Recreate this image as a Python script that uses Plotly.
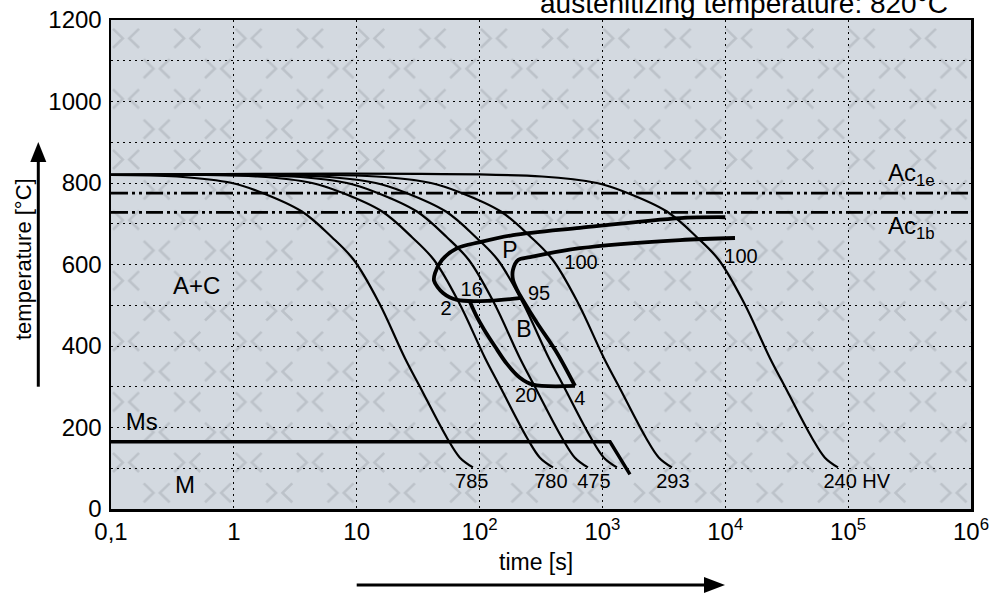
import base64
import plotly.graph_objects as go

# ---------------- data ----------------
# cooling curves: temperature levels [°C] and time [s] at those levels
T_cool = [820, 816, 800, 778, 730, 667, 611, 506, 370, 300, 175, 126, 102]
t_785 = [0.1, 0.344, 0.964, 1.63, 3.58, 6.28, 9.48, 15.2, 24.7, 32.7, 54.2, 69.2, 88.3]
t_780 = [0.1, 1.55, 4.33, 7.31, 16.1, 28.2, 42.6, 68.1, 111, 147, 243, 310, 396]
t_475 = [0.1, 2.97, 8.32, 14.1, 30.9, 54.2, 81.8, 131, 213, 282, 468, 597, 762]
t_unl = [0.1, 5.12, 14.3, 24.2, 53.2, 93.3, 141, 225, 367, 486, 805, 1028, 1312]
t_293 = [0.1, 14.4, 40.2, 67.9, 149, 262, 395, 632, 1030, 1365, 2259, 2884, 3681]
t_240 = [0.1, 322, 902, 1524, 3350, 5875, 8872, 14190, 23120, 30620, 50700, 64710, 82600]

# pearlite start line (outer thick line)
ps_t = [10000, 4276, 657, 187, 101, 65.5, 49.4, 43.4, 42.6, 50.4, 65.5, 122, 221]
ps_T = [716, 714, 690, 672, 655, 640, 611, 579, 560, 530, 513, 511, 518]
# pearlite finish / bainite line (inner thick line)
pf_t = [12000, 4276, 657, 257, 206, 187, 187, 202, 225, 293, 427, 598]
pf_T = [665, 660, 640, 618, 611, 587, 563, 538, 513, 457, 383, 302]
# bainite lower boundary
b_t = [83.6, 93.5, 109, 134, 167, 213, 272, 598]
b_T = [508, 476, 440, 398, 356, 322, 305, 302]
# martensite start
ms_t = [0.1, 1153, 1675]
ms_T = [165, 165, 85]
# Ac1 temperatures
Ac1e = 775
Ac1b = 728
t_span = [0.1, 1e6]

# labels
region_txt = ["A+C", "Ms", "M"]
region_t = [0.498, 0.178, 0.40]
region_T = [542, 209, 54]
phase_txt = ["P", "B"]
phase_t = [177, 230]
phase_T = [629, 437]
pct_txt = ["100", "100", "16", "95", "2", "20", "4"]
pct_t = [670, 13430, 86.3, 305, 53.3, 239, 656]
pct_T = [601, 617, 535, 525, 489, 274, 268]
hv_txt = ["785", "780", "475", "293", "240 HV"]
hv_t = [86.3, 381, 853, 3750, 117500]
hv_T = [64, 64, 64, 64, 64]
ac_txt = ["Ac<sub>1e</sub>", "Ac<sub>1b</sub>"]
ac_t = [211000, 211000]
ac_T = [819, 689]

x_tickvals = [0.1, 1, 10, 100, 1000, 1e4, 1e5, 1e6]
x_ticktext = ["0,1", "1", "10", "10<sup>2</sup>", "10<sup>3</sup>",
              "10<sup>4</sup>", "10<sup>5</sup>", "10<sup>6</sup>"]
y_tickvals = list(range(0, 1201, 100))
y_ticktext = [str(v) if v % 200 == 0 else "" for v in y_tickvals]

# ---------------- styling ----------------
FONT = "Liberation Sans, Arial, sans-serif"
BG = "#d3d9e0"
W, H = 992, 597
L, R, T, B = 111, 21, 20, 88
PW, PH = W - L - R, H - T - B

# background pattern of "><" marks (decoration)
tw, th = 61.3, 60.6


def chev(cx, cy):
    return (f'M{cx-13:.1f},{cy-9.5:.1f} L{cx-3.2:.1f},{cy:.1f} L{cx-13:.1f},{cy+9.5:.1f} '
            f'M{cx+13:.1f},{cy-9.5:.1f} L{cx+3.2:.1f},{cy:.1f} L{cx+13:.1f},{cy+9.5:.1f}')


svg = (f'<svg xmlns="http://www.w3.org/2000/svg" width="{PW}" height="{PH}" '
       f'viewBox="0 0 {PW} {PH}" preserveAspectRatio="none">'
       f'<defs><pattern id="p" width="{tw}" height="{th}" patternUnits="userSpaceOnUse">'
       f'<path d="{chev(15, 18.3)} {chev(45.7, 48.6)}" fill="none" stroke="#bcc2c9" '
       f'stroke-width="2.6"/></pattern></defs>'
       f'<rect width="{PW}" height="{PH}" fill="{BG}"/>'
       f'<rect width="{PW}" height="{PH}" fill="url(#p)"/></svg>')
svg_uri = "data:image/svg+xml;base64," + base64.b64encode(svg.encode()).decode()

fig = go.Figure()

thin = dict(color="black", width=2.2, shape="spline", smoothing=1.0)
for tt in [t_785, t_780, t_475, t_unl, t_293, t_240]:
    fig.add_trace(go.Scatter(x=tt, y=T_cool, mode="lines", line=thin,
                             hoverinfo="skip", showlegend=False))

dashdot = "17px,4px,3px,4px,3px,4px"
for lvl in [Ac1e, Ac1b]:
    fig.add_trace(go.Scatter(x=t_span, y=[lvl, lvl], mode="lines",
                             line=dict(color="black", width=2.8, dash=dashdot),
                             hoverinfo="skip", showlegend=False))

thick = dict(color="black", width=3.8, shape="spline", smoothing=0.9)
for xs, ys in [(ps_t, ps_T), (pf_t, pf_T), (b_t, b_T)]:
    fig.add_trace(go.Scatter(x=xs, y=ys, mode="lines", line=thick,
                             hoverinfo="skip", showlegend=False))
fig.add_trace(go.Scatter(x=ms_t, y=ms_T, mode="lines",
                         line=dict(color="black", width=3.4),
                         hoverinfo="skip", showlegend=False))


def txt(xs, ys, labels, size, pos="middle center"):
    fig.add_trace(go.Scatter(x=xs, y=ys, mode="text", text=labels,
                             textposition=pos,
                             textfont=dict(family=FONT, size=size, color="black"),
                             hoverinfo="skip", showlegend=False, cliponaxis=False))


txt(region_t, region_T, region_txt, 24)
txt(phase_t, phase_T, phase_txt, 23)
txt(pct_t, pct_T, pct_txt, 20)
txt(hv_t, hv_T, hv_txt, 20)
txt(ac_t, ac_T, ac_txt, 24, "middle right")


def px_x(p):
    return (p - L) / PW


def px_y(p):
    return (H - B - p) / PH


shapes = []
# y-axis arrow
shapes.append(dict(type="line", xref="paper", yref="paper",
                   x0=px_x(38.3), x1=px_x(38.3), y0=px_y(386.7), y1=px_y(158),
                   line=dict(color="black", width=3)))
shapes.append(dict(type="path", xref="paper", yref="paper",
                   path=f"M {px_x(38.3)},{px_y(142)} L {px_x(30.3)},{px_y(162)} "
                        f"L {px_x(46.3)},{px_y(162)} Z",
                   fillcolor="black", line=dict(color="black", width=0)))
# x-axis arrow
shapes.append(dict(type="line", xref="paper", yref="paper",
                   x0=px_x(356.7), x1=px_x(708), y0=px_y(585), y1=px_y(585),
                   line=dict(color="black", width=3)))
shapes.append(dict(type="path", xref="paper", yref="paper",
                   path=f"M {px_x(725)},{px_y(585)} L {px_x(704)},{px_y(577)} "
                        f"L {px_x(704)},{px_y(593)} Z",
                   fillcolor="black", line=dict(color="black", width=0)))

annotations = [
    dict(text="austenitizing temperature: 820°C", xref="paper", yref="paper",
         x=px_x(950), y=px_y(3.5), xanchor="right", yanchor="middle",
         showarrow=False, font=dict(family=FONT, size=28, color="black")),
    dict(text="temperature [°C]", xref="paper", yref="paper",
         x=px_x(23), y=px_y(259), xanchor="center", yanchor="middle",
         textangle=-90, showarrow=False, font=dict(family=FONT, size=22, color="black")),
    dict(text="time [s]", xref="paper", yref="paper",
         x=px_x(536), y=px_y(562), xanchor="center", yanchor="middle",
         showarrow=False, font=dict(family=FONT, size=23, color="black")),
]

grid = dict(showgrid=True, gridcolor="black", gridwidth=1, griddash="2px,4px",
            showline=True, linecolor="black", linewidth=2.5, mirror=True,
            ticks="", zeroline=False,
            tickfont=dict(family=FONT, size=24, color="black"))

fig.update_layout(
    width=W, height=H,
    margin=dict(l=L, r=R, t=T, b=B, autoexpand=False),
    paper_bgcolor="white", plot_bgcolor=BG,
    xaxis=dict(type="log", range=[-1, 6], tickvals=x_tickvals, ticktext=x_ticktext,
               ticklabeloverflow="allow", **grid),
    yaxis=dict(range=[0, 1200], tickvals=y_tickvals, ticktext=y_ticktext,
               ticklabelstandoff=2, **grid),
    images=[dict(source=svg_uri, xref="paper", yref="paper", x=0, y=1,
                 sizex=1, sizey=1, xanchor="left", yanchor="top",
                 sizing="stretch", layer="below")],
    shapes=shapes, annotations=annotations,
    font=dict(family=FONT, color="black"),
)

fig.write_html("out.html",
               config={"displayModeBar": False, "staticPlot": True},
               post_script="document.body.style.margin='0px';"
                           "document.body.style.overflow='hidden';")
